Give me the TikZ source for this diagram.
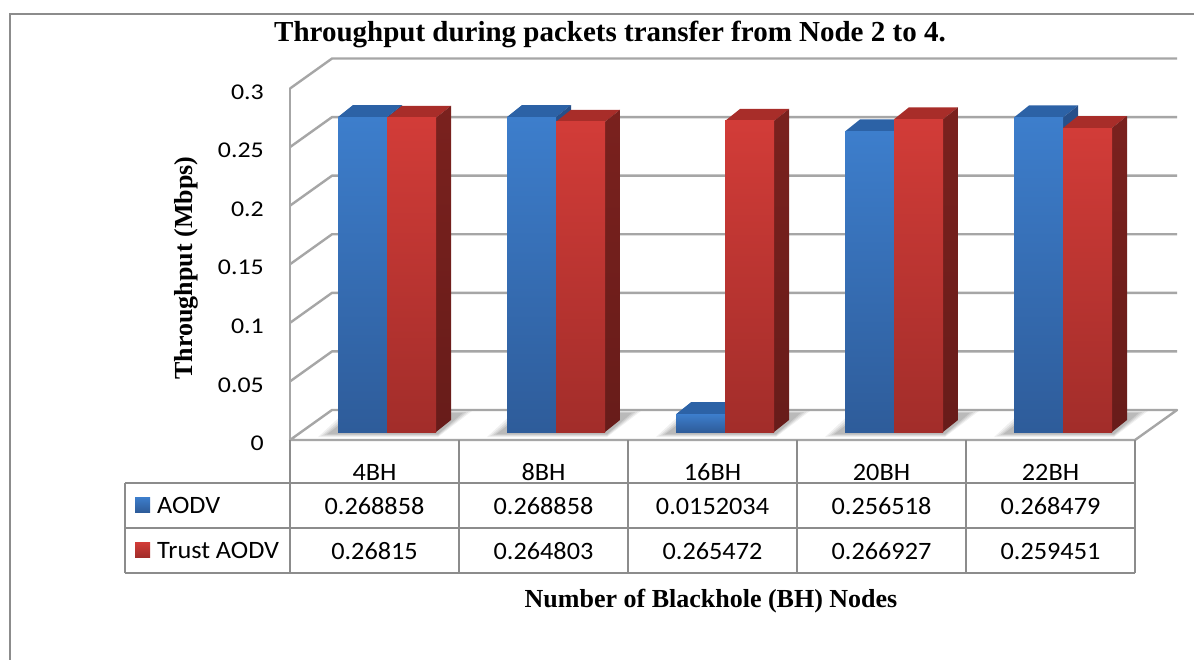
\documentclass[tikz,border=0pt]{standalone}
\usepackage{fontspec}
\setmainfont{Liberation Serif}
\newfontfamily\calfont{Carlito}
\definecolor{gridgray}{HTML}{A6A6A6}
\definecolor{framegray}{HTML}{8C8C8C}
\definecolor{bluefrontT}{HTML}{3D7ECC}
\definecolor{bluefrontB}{HTML}{2E5C9A}
\definecolor{blueside}{HTML}{27508A}
\definecolor{bluetop}{HTML}{2C62A6}
\definecolor{redfrontT}{HTML}{D23C38}
\definecolor{redfrontB}{HTML}{A22D2A}
\definecolor{redside}{HTML}{7A211E}
\definecolor{redtop}{HTML}{A82D29}
\begin{document}
\begin{tikzpicture}[x=1pt,y=-1pt,
  wall/.style={draw=gridgray,line width=2.4pt,line join=round},
  frameline/.style={draw=framegray,line width=2.6pt},
  tabline/.style={draw=framegray,line width=2.4pt},
  ticklbl/.style={font=\calfont\fontsize{22.5}{26}\selectfont,anchor=east,inner sep=0pt,xscale=1.15},
  cell/.style={font=\calfont\fontsize{25}{29}\selectfont,inner sep=0pt,xscale=1.05},
  heading/.style={font=\bfseries\fontsize{29}{33}\selectfont,inner sep=0pt},
  axislbl/.style={font=\bfseries\fontsize{26}{30}\selectfont,inner sep=0pt}]
\useasboundingbox (0,0) rectangle (1194,660);
\clip (0,0) rectangle (1194,660);
\fill[white] (0,0) rectangle (1194,660);

% outer chart frame (continues past the right and bottom edges)
\draw[frameline] (10,700) -- (10,14) -- (1220,14);

% title
\node[heading] (title) at (610,34) {Throughput during packets transfer from Node 2 to 4.};

% side wall, back wall gridlines and floor
\foreach \k in {1,...,6}{
  \pgfmathsetmacro\fy{440-58.58*\k}
  \draw[wall] (290,\fy) -- (332,\fy-30) -- (1177,\fy-30);
}
\draw[wall] (290,88.5) -- (290,440);
\draw[wall] (290,440) -- (332,410) -- (1177,410) -- (1135,440) -- cycle;

% tick labels
\foreach \k/\lbl in {0/0,1/0.05,2/0.1,3/0.15,4/0.2,5/0.25,6/0.3}{
  \pgfmathsetmacro\fy{440-58.58*\k}
  \node[ticklbl] (tick\k) at (264,\fy+3.5) {\lbl};
}

% axis titles
\node[axislbl,rotate=90] (ylabel) at (186,268) {Throughput (Mbps)};
\node[axislbl] (xlabel) at (711,601) {Number of Blackhole (BH) Nodes};

% bars: one blue (AODV) and one red (Trust AODV) per category
\foreach \i/\va/\vt in {0/0.268858/0.26815, 1/0.268858/0.264803, 2/0.0152034/0.265472, 3/0.256518/0.266927, 4/0.268479/0.259451}{
  \pgfmathsetmacro\xs{301+169*\i}
  \pgfmathsetmacro\bl{\xs+37}
  \pgfmathsetmacro\bm{\xs+86}
  \pgfmathsetmacro\br{\xs+135}
  \pgfmathsetmacro\ya{432-1171.6*\va}
  \pgfmathsetmacro\yt{432-1171.6*\vt}
  % soft floor shadow
  \foreach \g/\op in {0/0.06,3/0.07,6/0.08,9/0.09}{
    \fill[black,opacity=\op] (\bl-20+\g,437-\g*0.3) -- (\br+2,437-\g*0.3) -- (\br+36-\g,411+\g*0.2) -- (\bl+8+\g,411+\g*0.2) -- cycle;
  }
  % blue bar
  \fill[bluetop] (\bl,\ya) -- (\bl+15,\ya-12) -- (\bm+15,\ya-12) -- (\bm,\ya) -- cycle;
  \fill[blueside] (\bm,432) -- (\bm+15,420) -- (\bm+15,\ya-12) -- (\bm,\ya) -- cycle;
  \shade[top color=bluefrontT,bottom color=bluefrontB] (\bl,\ya) rectangle (\bm,432);
  % red bar
  \fill[redtop] (\bm,\yt) -- (\bm+15,\yt-12) -- (\br+15,\yt-12) -- (\br,\yt) -- cycle;
  \shade[top color=redside,bottom color=redside!85!black] (\br,432) -- (\br+15,420) -- (\br+15,\yt-12) -- (\br,\yt) -- cycle;
  \shade[top color=redfrontT,bottom color=redfrontB] (\bm,\yt) rectangle (\br,432);
}

% data table
\draw[tabline] (125,483) -- (1135,483);
\draw[tabline] (125,528) -- (1135,528);
\draw[tabline] (125,573) -- (1135,573);
\draw[tabline] (125,483) -- (125,573);
\foreach \x in {290,459,628,797,966,1135}{
  \draw[tabline] (\x,440) -- (\x,573);
}

% legend keys
\shade[top color=bluefrontT,bottom color=bluefrontB] (135,497) rectangle (150,512);
\shade[top color=redfrontT,bottom color=redfrontB] (135,542) rectangle (150,557);
\node[cell,anchor=west] (legA) at (157,505) {AODV};
\node[cell,anchor=west] (legT) at (157,550) {Trust AODV};

% category headers and values
\foreach \i/\cat/\va/\vt in {0/4BH/0.268858/0.26815, 1/8BH/0.268858/0.264803, 2/16BH/0.0152034/0.265472, 3/20BH/0.256518/0.266927, 4/22BH/0.268479/0.259451}{
  \pgfmathsetmacro\xc{374.5+169*\i}
  \node[cell] (cat\i) at (\xc,472) {\cat};
  \node[cell] (valA\i) at (\xc,506) {\va};
  \node[cell] (valT\i) at (\xc,551) {\vt};
}
\end{tikzpicture}
\end{document}
